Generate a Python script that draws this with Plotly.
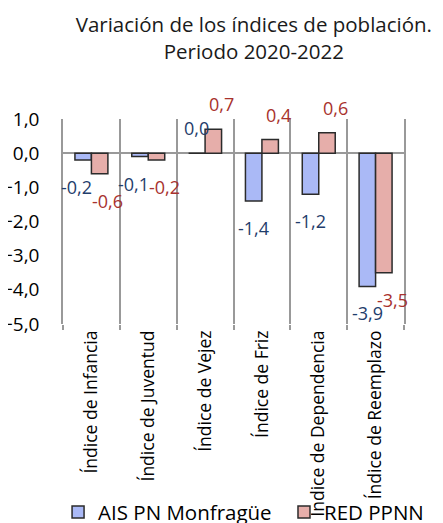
import plotly.graph_objects as go

# Datos
indices = ["Índice de Infancia", "Índice de Juventud", "Índice de Vejez",
           "Índice de Friz", "Índice de Dependencia", "Índice de Reemplazo"]
ais_monfrague = [-0.2, -0.1, 0.0, -1.4, -1.2, -3.9]
red_ppnn = [-0.6, -0.2, 0.7, 0.4, 0.6, -3.5]
y_ticks = [1, 0, -1, -2, -3, -4, -5]

font_family = "'Open Sans', sans-serif"

# nombre, valores, relleno, color de etiqueta, leyenda, x de la leyenda
series = [
    ["AIS PN Monfragüe", ais_monfrague, "#aab9f6", "#1f3d6b", "legend2", 0.113],
    ["RED PPNN", red_ppnn, "#e6aeaa", "#a8322d", "legend3", 0.623],
]

fig = go.Figure()
for name, vals, fill, label_color, leg, lx in series:
    fig.add_trace(go.Bar(name=name, x=indices, y=vals, legend=leg,
                         marker=dict(color=fill, line=dict(color="#2b2b2b", width=1.5))))

# Etiquetas de datos (como en Excel, algo separadas de la barra)
annotations = []
for i, (name, vals, fill, label_color, leg, lx) in enumerate(series):
    for j, v in enumerate(vals):
        if i == 0:
            dx = -8.5 - (6 if -0.3 < v < 0 else 0)
        else:
            dx = 8.5 + 8
        annotations.append(dict(
            x=indices[j], y=v, xref="x", yref="y",
            text=f"{v:.1f}".replace(".", ","),
            showarrow=False, xshift=dx,
            yshift=25 if v >= 0 else -27,
            font=dict(family=font_family, size=18, color=label_color)))

legend_style = dict(orientation="h", xanchor="left", yref="container", y=0.036,
                    yanchor="middle", xref="container",
                    font=dict(family=font_family, size=20.5, color="black"),
                    itemwidth=30, bgcolor="rgba(0,0,0,0)")

# la pagina tiene 8px de margen, por eso el grafico va desplazado
fig.update_layout(
    width=443, height=523,
    barmode="group", bargap=0.42, bargroupgap=0,
    separators=",.",
    paper_bgcolor="white", plot_bgcolor="white",
    margin=dict(l=55, r=47, t=111, b=207, autoexpand=False),
    font=dict(family=font_family, size=16, color="black"),
    title=dict(text="Variación de los índices de población.<br>Periodo 2020-2022",
               xref="container", x=0.555, xanchor="center",
               yref="container", y=0.954, yanchor="middle",
               font=dict(family=font_family, size=20.5, color="#1a1a1a")),
    legend2=dict(legend_style, x=series[0][5]),
    legend3=dict(legend_style, x=series[1][5]),
    annotations=annotations,
)

fig.update_xaxes(tickson="boundaries", showgrid=True, gridcolor="#999999", gridwidth=1.5,
                 ticks="outside", ticklen=5, tickcolor="#999999", tickwidth=1.5,
                 tickangle=-90, ticklabelstandoff=2,
                 tickfont=dict(family=font_family, size=17.5, color="black"),
                 showline=False, range=[-0.5, 5.5], automargin=False)
fig.update_yaxes(range=[-5, 1], tickvals=y_ticks, tickformat=".1f", showgrid=False,
                 zeroline=True, zerolinecolor="#999999", zerolinewidth=2,
                 showline=True, mirror=True, linecolor="#999999", linewidth=1.5,
                 ticks="", ticklabelstandoff=18, automargin=False,
                 tickfont=dict(family=font_family, size=19, color="black"))

fig.write_html("out.html")
